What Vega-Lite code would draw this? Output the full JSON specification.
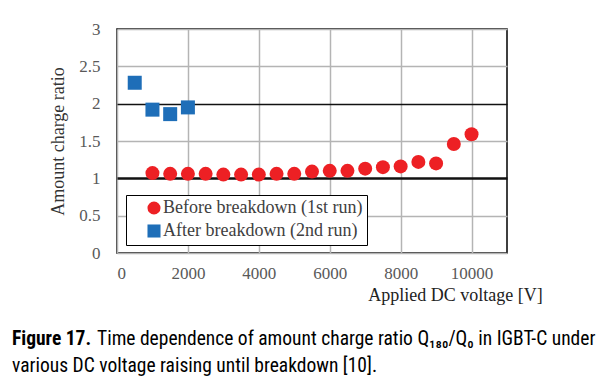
{
  "$schema": "https://vega.github.io/schema/vega-lite/v6.json",
  "width": 390,
  "height": 224,
  "autosize": "none",
  "padding": {"left": 117, "top": 29, "right": 100, "bottom": 136},
  "background": "white",
  "config": {
    "view": {"stroke": "black", "strokeWidth": 1.5},
    "font": "Liberation Serif"
  },
  "title": {
    "text": "Figure 17.",
    "subtitle": [
      "\u200b\u00a0\u00a0\u00a0\u00a0\u00a0\u00a0\u00a0\u00a0\u00a0\u00a0\u00a0\u00a0\u00a0\u00a0\u00a0\u00a0\u00a0\u00a0\u00a0Time dependence of amount charge ratio Q\u2081\u2088\u2080/Q\u2080 in IGBT-C under",
      "various DC voltage raising until breakdown [10]."
    ],
    "orient": "bottom",
    "anchor": "start",
    "frame": "group",
    "dx": -105,
    "offset": 26,
    "font": "Roboto Condensed, Roboto, sans-serif",
    "fontSize": 19.5,
    "fontWeight": "bold",
    "color": "black",
    "subtitleFont": "Roboto Condensed, Roboto, sans-serif",
    "subtitleFontSize": 19.5,
    "subtitleFontWeight": "normal",
    "subtitleColor": "black",
    "subtitlePadding": -19.5,
    "subtitleLineHeight": 27
  },
  "data": {
    "values": [
      {"series": "After breakdown (2nd run)", "voltage": 500, "ratio": 2.28},
      {"series": "After breakdown (2nd run)", "voltage": 1000, "ratio": 1.92},
      {"series": "After breakdown (2nd run)", "voltage": 1500, "ratio": 1.86},
      {"series": "After breakdown (2nd run)", "voltage": 2000, "ratio": 1.95},
      {"series": "Before breakdown (1st run)", "voltage": 1000, "ratio": 1.07},
      {"series": "Before breakdown (1st run)", "voltage": 1500, "ratio": 1.06},
      {"series": "Before breakdown (1st run)", "voltage": 2000, "ratio": 1.06},
      {"series": "Before breakdown (1st run)", "voltage": 2500, "ratio": 1.06},
      {"series": "Before breakdown (1st run)", "voltage": 3000, "ratio": 1.05},
      {"series": "Before breakdown (1st run)", "voltage": 3500, "ratio": 1.05},
      {"series": "Before breakdown (1st run)", "voltage": 4000, "ratio": 1.05},
      {"series": "Before breakdown (1st run)", "voltage": 4500, "ratio": 1.06},
      {"series": "Before breakdown (1st run)", "voltage": 5000, "ratio": 1.06},
      {"series": "Before breakdown (1st run)", "voltage": 5500, "ratio": 1.09},
      {"series": "Before breakdown (1st run)", "voltage": 6000, "ratio": 1.1},
      {"series": "Before breakdown (1st run)", "voltage": 6500, "ratio": 1.1},
      {"series": "Before breakdown (1st run)", "voltage": 7000, "ratio": 1.13},
      {"series": "Before breakdown (1st run)", "voltage": 7500, "ratio": 1.15},
      {"series": "Before breakdown (1st run)", "voltage": 8000, "ratio": 1.16},
      {"series": "Before breakdown (1st run)", "voltage": 8500, "ratio": 1.22},
      {"series": "Before breakdown (1st run)", "voltage": 9000, "ratio": 1.2},
      {"series": "Before breakdown (1st run)", "voltage": 9500, "ratio": 1.46},
      {"series": "Before breakdown (1st run)", "voltage": 10000, "ratio": 1.59}
    ]
  },
  "mark": {"type": "point", "filled": true, "opacity": 1, "size": 196},
  "encoding": {
    "x": {
      "field": "voltage",
      "type": "quantitative",
      "scale": {"domain": [0, 11000], "nice": false},
      "axis": {
        "values": [0, 2000, 4000, 6000, 8000, 10000],
        "format": "d",
        "grid": true,
        "gridColor": "#b4b4b4",
        "gridWidth": 1.5,
        "gridOpacity": 1,
        "ticks": false,
        "domain": false,
        "labelFont": "Liberation Serif",
        "labelFontSize": 17,
        "labelColor": "#595959",
        "labelPadding": 12,
        "title": "Applied DC voltage [V]",
        "titleFont": "Liberation Serif",
        "titleFontSize": 18,
        "titleFontWeight": "normal",
        "titleColor": "#222222",
        "titleAlign": "center",
        "titleBaseline": "middle",
        "titleX": 338,
        "titleY": 42
      }
    },
    "y": {
      "field": "ratio",
      "type": "quantitative",
      "scale": {"domain": [0, 3], "nice": false},
      "axis": {
        "values": [0, 0.5, 1, 1.5, 2, 2.5, 3],
        "format": "~g",
        "grid": true,
        "gridColor": {
          "condition": {"test": "datum.value === 1 || datum.value === 2", "value": "#111111"},
          "value": "#b4b4b4"
        },
        "gridWidth": {
          "condition": {"test": "datum.value === 1", "value": 2.5},
          "value": 1.5
        },
        "gridOpacity": 1,
        "labelOverlap": false,
        "ticks": false,
        "domain": false,
        "labelFont": "Liberation Serif",
        "labelFontSize": 17,
        "labelColor": "#595959",
        "labelPadding": 17,
        "title": "Amount charge ratio",
        "titleFont": "Liberation Serif",
        "titleFontSize": 18,
        "titleFontWeight": "normal",
        "titleColor": "#333333",
        "titleAngle": -90,
        "titleAlign": "center",
        "titleBaseline": "middle",
        "titleX": -59,
        "titleY": 112
      }
    },
    "color": {
      "field": "series",
      "type": "nominal",
      "scale": {
        "domain": ["Before breakdown (1st run)", "After breakdown (2nd run)"],
        "range": ["#ED2024", "#1E6EB8"]
      },
      "legend": {
        "orient": "none",
        "legendX": 9,
        "legendY": 166,
        "title": null,
        "strokeColor": "black",
        "fillColor": "white",
        "padding": 4,
        "symbolOffset": 15,
        "symbolSize": 170,
        "symbolOpacity": 1,
        "labelOffset": 0,
        "labelFont": "Liberation Serif",
        "labelFontSize": 18,
        "labelColor": "#404040",
        "labelLimit": 400,
        "rowPadding": 3
      }
    },
    "shape": {
      "field": "series",
      "type": "nominal",
      "scale": {
        "domain": ["Before breakdown (1st run)", "After breakdown (2nd run)"],
        "range": ["circle", "square"]
      },
      "legend": {
        "orient": "none",
        "legendX": 9,
        "legendY": 166,
        "title": null,
        "strokeColor": "black",
        "fillColor": "white",
        "padding": 4,
        "symbolOffset": 15,
        "symbolSize": 170,
        "symbolOpacity": 1,
        "labelOffset": 0,
        "labelFont": "Liberation Serif",
        "labelFontSize": 18,
        "labelColor": "#404040",
        "labelLimit": 400,
        "rowPadding": 3
      }
    }
  }
}
